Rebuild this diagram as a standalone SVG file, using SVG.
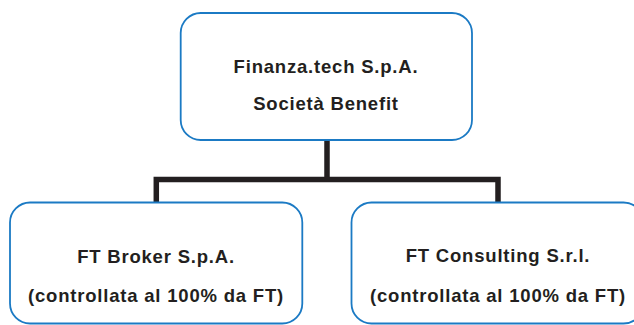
<svg xmlns="http://www.w3.org/2000/svg" width="634" height="325" viewBox="0 0 634 325">
<style>
.box{fill:#fff;stroke:#1b7ac4;stroke-width:1.8}
.t{font-family:"Liberation Sans",Arial,sans-serif;font-weight:bold;font-size:18.5px;fill:#231f20;text-anchor:middle;letter-spacing:0.8px}
.c{fill:none;stroke:#231f20;stroke-width:5.5;stroke-linejoin:miter}
</style>
<rect width="634" height="325" fill="#fff"/>
<g id="connectors">
<path class="c" d="M327 140 V179.5 M156.3 203 V179.5 H498 V203"/>
</g>
<g id="parent">
<rect class="box" x="180.7" y="13" width="291.3" height="127" rx="20"/>
<text class="t" x="326" y="73">Finanza.tech S.p.A.</text>
<text class="t" x="326" y="110">Società Benefit</text>
</g>
<g id="broker">
<rect class="box" x="10" y="202.5" width="292.3" height="121" rx="20"/>
<text class="t" x="156" y="263">FT Broker S.p.A.</text>
<text class="t" x="156" y="302">(controllata al 100% da FT)</text>
</g>
<g id="consulting">
<rect class="box" x="351.5" y="202.5" width="292" height="121" rx="20"/>
<text class="t" x="498" y="262">FT Consulting S.r.l.</text>
<text class="t" x="498" y="302">(controllata al 100% da FT)</text>
</g>
</svg>
